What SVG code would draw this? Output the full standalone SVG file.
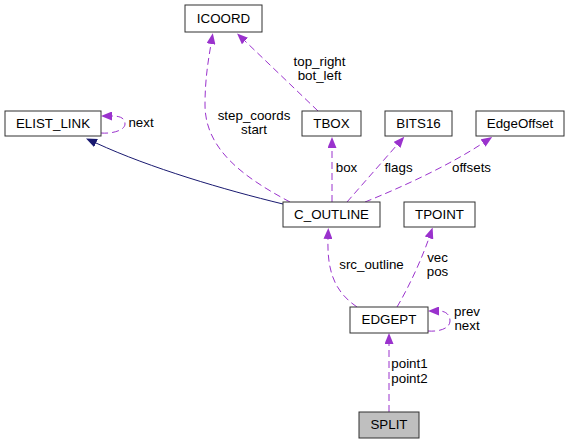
<svg xmlns="http://www.w3.org/2000/svg" width="569" height="444" viewBox="0 0 569 444">
<style>
.box{fill:#ffffff;stroke:#303030;stroke-width:1}
.t{font-family:"Liberation Sans",Arial,Helvetica,sans-serif;font-size:13.33px;fill:#000;text-anchor:middle}
.u{stroke:#9a32cd;stroke-width:1;fill:none;stroke-dasharray:7,4}
.n{stroke:#191970;stroke-width:1;fill:none}
</style>
<defs>
<marker id="ap" viewBox="0 0 11 9" refX="0" refY="4.5" markerWidth="11" markerHeight="9" markerUnits="userSpaceOnUse" orient="auto"><path d="M0,0 L11,4.5 L0,9 z" fill="#9a32cd"/></marker>
<marker id="an" viewBox="0 0 11 9" refX="0" refY="4.5" markerWidth="11" markerHeight="9" markerUnits="userSpaceOnUse" orient="auto"><path d="M0,0 L11,4.5 L0,9 z" fill="#191970"/></marker>
</defs>
<rect width="569" height="444" fill="#ffffff"/>
<g id="connectors">
<path class="n" d="M283,204 C225,190 150,168 96,143" marker-end="url(#an)"/>
<path class="u" d="M101,133 C113,134 125,130 125,124 C125,118 120,116 112,116" marker-end="url(#ap)"/>
<path class="u" d="M290,202 C245,178 205,150 205,105 C205,80 208,62 211,44" marker-end="url(#ap)"/>
<path class="u" d="M318,111 L245,41" marker-end="url(#ap)"/>
<path class="u" d="M332,202 L332,148" marker-end="url(#ap)"/>
<path class="u" d="M347,202 L397,145" marker-end="url(#ap)"/>
<path class="u" d="M365,202 C400,188 450,165 483,143" marker-end="url(#ap)"/>
<path class="u" d="M357,307 C335,292 327,272 328,239" marker-end="url(#ap)"/>
<path class="u" d="M397,307 C410,285 422,258 429,238" marker-end="url(#ap)"/>
<path class="u" d="M428,331 C440,332 450,328 450,321 C450,315 446,311 439,311" marker-end="url(#ap)"/>
<path class="u" d="M389,412 L389,344" marker-end="url(#ap)"/>
<text class="t" x="141" y="127">next</text>
<text class="t" x="254" y="120">step_coords</text>
<text class="t" x="254" y="134">start</text>
<text class="t" x="319.5" y="66">top_right</text>
<text class="t" x="319.5" y="80">bot_left</text>
<text class="t" x="346.5" y="172">box</text>
<text class="t" x="398.5" y="172">flags</text>
<text class="t" x="471.5" y="172">offsets</text>
<text class="t" x="371.5" y="269">src_outline</text>
<text class="t" x="437.5" y="262">vec</text>
<text class="t" x="437.5" y="276">pos</text>
<text class="t" x="467" y="316">prev</text>
<text class="t" x="467" y="330">next</text>
<text class="t" x="409.5" y="368">point1</text>
<text class="t" x="409.5" y="383">point2</text>
</g>
<g id="ICOORD"><rect class="box" x="185" y="5" width="77" height="27"/><text class="t" x="223.5" y="23">ICOORD</text></g>
<g id="ELIST_LINK"><rect class="box" x="5" y="111" width="96" height="25"/><text class="t" x="53" y="128">ELIST_LINK</text></g>
<g id="TBOX"><rect class="box" x="302" y="111" width="59" height="25"/><text class="t" x="331.5" y="128">TBOX</text></g>
<g id="BITS16"><rect class="box" x="385" y="111" width="67" height="25"/><text class="t" x="418.5" y="128">BITS16</text></g>
<g id="EdgeOffset"><rect class="box" x="476" y="111" width="88" height="25"/><text class="t" x="520" y="128">EdgeOffset</text></g>
<g id="C_OUTLINE"><rect class="box" x="283" y="202" width="97" height="25"/><text class="t" x="331.5" y="219">C_OUTLINE</text></g>
<g id="TPOINT"><rect class="box" x="404" y="202" width="71" height="25"/><text class="t" x="439.5" y="219">TPOINT</text></g>
<g id="EDGEPT"><rect class="box" x="350" y="307" width="78" height="26"/><text class="t" x="389" y="324">EDGEPT</text></g>
<g id="SPLIT"><rect class="box" x="359" y="412" width="60" height="26" style="fill:#bfbfbf"/><text class="t" x="389" y="429">SPLIT</text></g>
</svg>
